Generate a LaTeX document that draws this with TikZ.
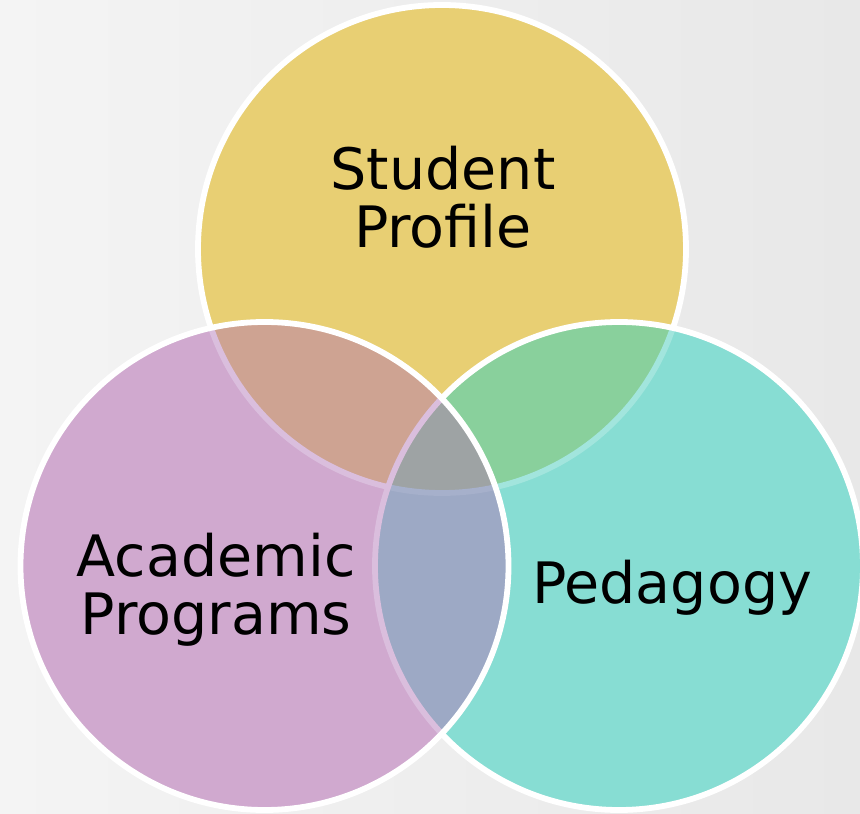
\documentclass[tikz,border=0pt]{standalone}
\usepackage{fontspec}
\setmainfont{DejaVu Sans}
\usepackage{tikz}
\definecolor{bgL}{HTML}{F4F4F4}
\definecolor{bgR}{HTML}{E8E8E8}
\definecolor{yel}{HTML}{E8CF73}
\definecolor{tea}{HTML}{87DDD3}
\definecolor{pur}{HTML}{D0A9CF}
\definecolor{yelPur}{HTML}{CEA392}
\definecolor{yelTea}{HTML}{89D09C}
\definecolor{purTea}{HTML}{9DA9C5}
\definecolor{allGray}{HTML}{9EA3A4}
\definecolor{lavLine}{HTML}{DABEDD}
\definecolor{teaLine}{HTML}{A2E5DD}
\definecolor{bluLine}{HTML}{A6B0CB}

\begin{document}
\begin{tikzpicture}[x=0.02cm, y=0.02cm,
  rim/.style={draw=white, line width=3.3pt},
  seam/.style={line width=3.3pt},
  vlabel/.style={font=\fontsize{32.5}{33}\selectfont, align=center, text=black}]
 \useasboundingbox (0, 0) rectangle (860, -814);
 \shade[left color=bgL, right color=bgR] (0, 0) rectangle (860, -814);
 \def\rr{244}
 \coordinate (cs) at (442, -249);
 \coordinate (ca) at (264.5, -566);
 \coordinate (cp) at (619, -566);
 % student profile
 \fill[yel] (cs) circle [radius = \rr];
 \draw[rim] (cs) circle [radius = \rr];
 % pedagogy
 \fill[tea] (cp) circle [radius = \rr];
 \begin{scope}
  \clip (cp) circle [radius = \rr];
  \fill[yelTea] (cs) circle [radius = \rr];
  \draw[seam, teaLine] (cs) circle [radius = \rr];
 \end{scope}
 \draw[rim] (cp) circle [radius = \rr];
 % academic programs
 \fill[pur] (ca) circle [radius = \rr];
 \begin{scope}
  \clip (ca) circle [radius = \rr];
  \fill[yelPur] (cs) circle [radius = \rr];
  \draw[seam, lavLine] (cs) circle [radius = \rr];
  \fill[purTea] (cp) circle [radius = \rr];
  \begin{scope}
   \clip (cp) circle [radius = \rr];
   \fill[allGray] (cs) circle [radius = \rr];
   \draw[seam, bluLine] (cs) circle [radius = \rr];
  \end{scope}
  \draw[seam, lavLine] (cp) circle [radius = \rr];
 \end{scope}
 \draw[rim] (ca) circle [radius = \rr];
 \node[vlabel] (student) at (443, -197) {Student\\Profile};
 \node[vlabel] (academic) at (216, -590) {Academic\\Programs};
 \node[vlabel] (pedagogy) at (672, -588) {Pedagogy};
\end{tikzpicture}
\end{document}
